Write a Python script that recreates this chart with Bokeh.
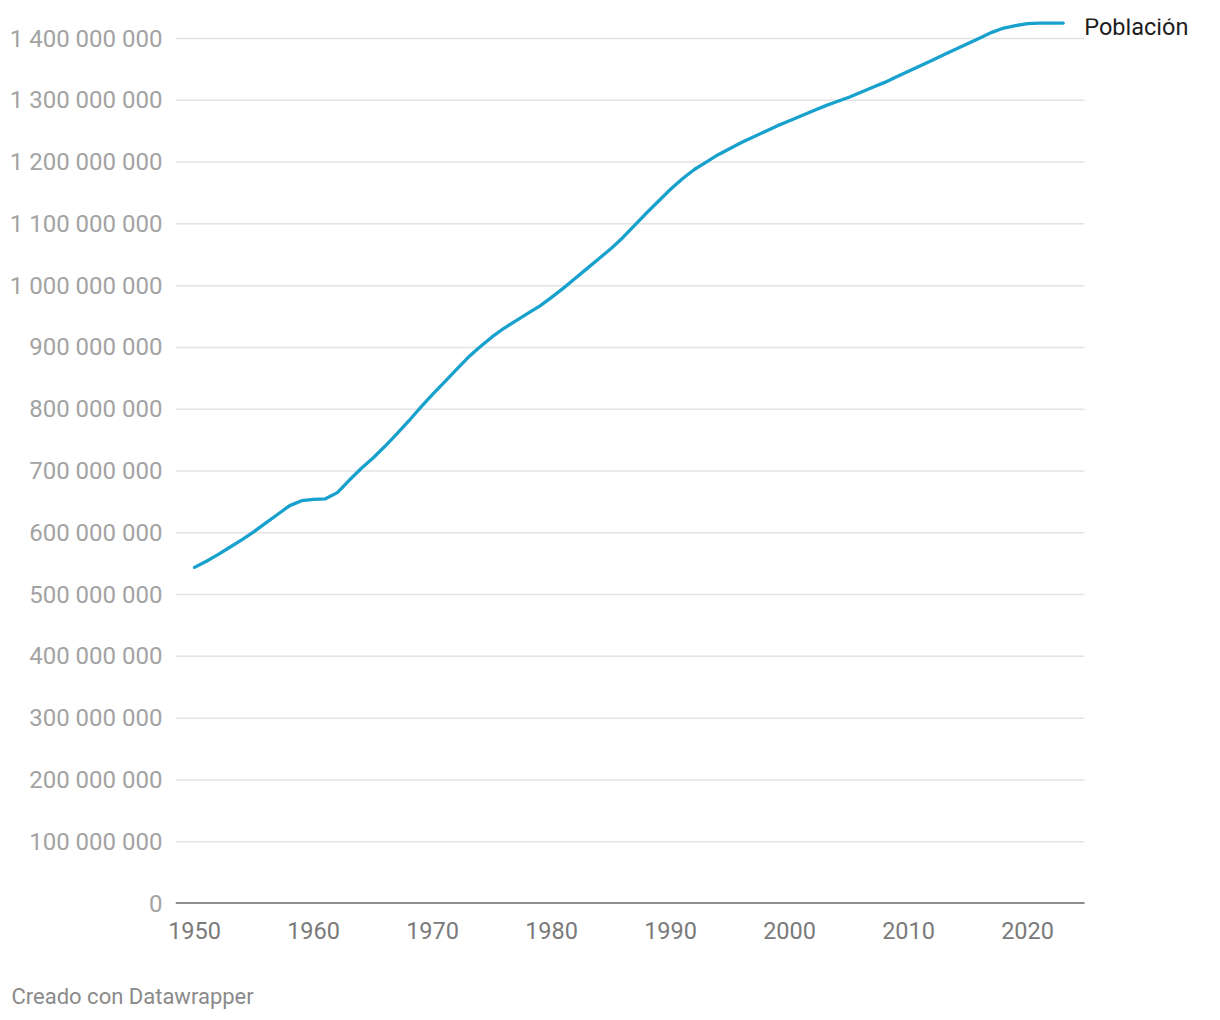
from bokeh.plotting import figure
from bokeh.models import (ColumnDataSource, FixedTicker, CustomJSTickFormatter,
                          Range1d, Label, Title)
from bokeh.embed import file_html
from bokeh.resources import INLINE

years = list(range(1950, 2024))
poblacion_millones = [
    544, 554, 565, 577, 589, 602, 616, 630, 644, 652,
    654, 655, 665, 685, 704, 721, 740, 760, 781, 803,
    824, 844, 864, 884, 901, 917, 931, 943, 955, 967,
    981, 996, 1012, 1028, 1044, 1060, 1078, 1098, 1118, 1137,
    1156, 1173, 1188, 1200, 1212, 1222, 1232, 1241, 1250, 1259,
    1267, 1275, 1283, 1291, 1298, 1305, 1313, 1321, 1329, 1338,
    1347, 1356, 1365, 1374, 1383, 1392, 1401, 1410, 1417, 1421,
    1424, 1425, 1425, 1425,
]
poblacion = [v * 1_000_000 for v in poblacion_millones]
y_ticks = [i * 100_000_000 for i in range(15)]
x_ticks = [1950, 1960, 1970, 1980, 1990, 2000, 2010, 2020]
series_label = "Población"
credit = "Creado con Datawrapper"

# visible chart span (grid / baseline extent) and wider frame for the label
X0, X1 = 1948.40, 2024.79
W, H = 1215, 1015
LEFT = 175
px_per_year = 11.9
frame_w = W - LEFT
x_end = X0 + frame_w / px_per_year

p = figure(width=W, height=H, output_backend="svg", toolbar_location=None,
           x_range=Range1d(X0, x_end),
           y_range=Range1d(0, 1432_400_000),
           min_border_left=LEFT, min_border_right=0,
           min_border_top=18, min_border_bottom=H - 903)
p.outline_line_color = None
p.background_fill_color = "white"
p.border_fill_color = "white"

# gridlines limited to the chart span
grid_src = ColumnDataSource(dict(x0=[X0] * 14, x1=[X1] * 14, y=y_ticks[1:]))
p.segment(x0="x0", y0="y", x1="x1", y1="y", source=grid_src,
          line_color="#e3e3e3", line_width=1.5)
# baseline
p.segment(x0=[X0], y0=[0], x1=[X1], y1=[0], line_color="#1d1d1d", line_width=2)

src = ColumnDataSource(dict(x=years, y=poblacion))
p.line("x", "y", source=src, line_color="#18a1cd", line_width=3.3,
       line_join="round", line_cap="round")

# axes
p.yaxis.ticker = FixedTicker(ticks=y_ticks)
p.yaxis.formatter = CustomJSTickFormatter(code="""
    return tick.toFixed(0).replace(/\\B(?=(\\d{3})+(?!\\d))/g, ' ');
""")
p.yaxis.axis_line_color = None
p.yaxis.major_tick_line_color = None
p.yaxis.minor_tick_line_color = None
p.yaxis.major_label_standoff = 7
p.yaxis.major_label_text_font = "Roboto"
p.yaxis.major_label_text_font_size = "24px"
p.yaxis.major_label_text_color = "#a3a3a3"

p.xaxis.ticker = FixedTicker(ticks=x_ticks)
p.xaxis.axis_line_color = None
p.xaxis.major_tick_line_color = None
p.xaxis.minor_tick_line_color = None
p.xaxis.major_label_standoff = 12
p.xaxis.major_label_text_font = "Roboto"
p.xaxis.major_label_text_font_size = "23.5px"
p.xaxis.major_label_text_color = "#7a7a7a"

p.xgrid.grid_line_color = None
p.ygrid.grid_line_color = None

# direct label at end of line
p.add_layout(Label(x=years[-1], y=poblacion[-1], text=series_label,
                   x_offset=21, y_offset=-4, text_baseline="middle",
                   text_align="left", text_font="Roboto",
                   text_font_size="23.5px", text_color="#1d1d1d"))

# spacer between axis and credit
p.add_layout(Title(text=" ", text_font_size="2px", standoff=36), "below")
# credit
t = Title(text=credit, align="left", text_font="Roboto",
          text_font_size="22px", text_color="#8a8a8a",
          text_font_style="normal", offset=11 - LEFT, standoff=0)
p.add_layout(t, "below")

open("out.html", "w").write(file_html(p, INLINE))
